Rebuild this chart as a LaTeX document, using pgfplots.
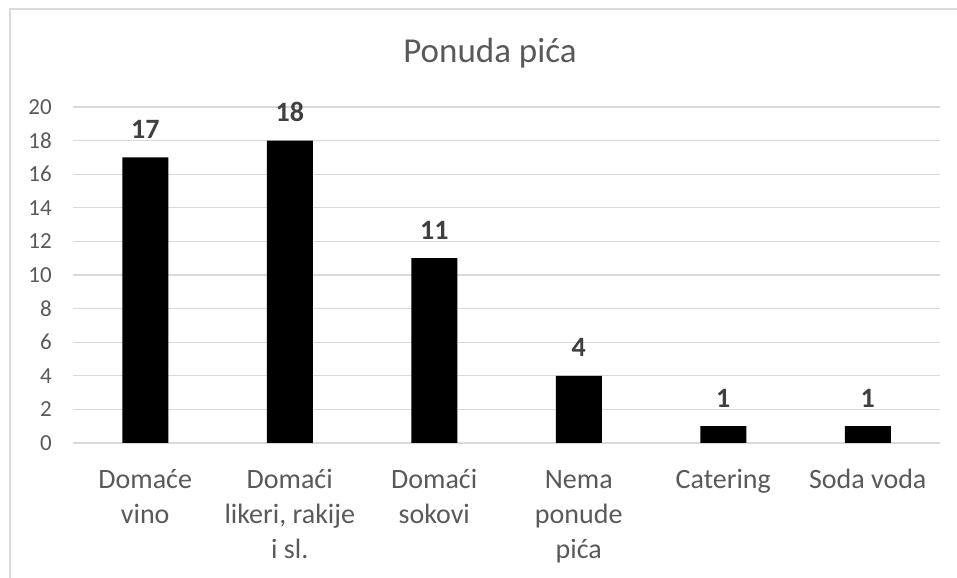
\documentclass[border=0pt]{standalone}
\usepackage{pgfplots}
\pgfplotsset{compat=1.18}
\usepackage{fontspec}
\setmainfont{Carlito}
\definecolor{txt}{HTML}{595959}
\definecolor{lbl}{HTML}{404040}
\definecolor{grd}{HTML}{D9D9D9}
\newcommand\yt[1]{\fontsize{23bp}{26bp}\selectfont #1}
\begin{document}
\begin{tikzpicture}[x=1bp,y=1bp]
\path[use as bounding box] (0,0) rectangle (957,578);
\draw[grd, line width=1.5bp] (10,0) -- (10,569) -- (957,569);
\node[anchor=base, text=txt, font=\fontsize{35bp}{40bp}\selectfont] at (490,515) {Ponuda pića};
\begin{axis}[
  at={(73bp,135bp)}, anchor=south west,
  scale only axis, width=867bp, height=336bp,
  xmin=-0.5, xmax=5.5, ymin=0, ymax=20,
  ytick={0,2,4,6,8,10,12,14,16,18,20},
  yticklabels={\yt{0},\yt{2},\yt{4},\yt{6},\yt{8},\yt{10},\yt{12},\yt{14},\yt{16},\yt{18},\yt{20}},
  xtick={0,...,5},
  xticklabels={{\strut Domaće\\vino},{\strut Domaći\\likeri, rakije\\i sl.},{\strut Domaći\\sokovi},{\strut Nema\\ponude\\pića},{\strut Catering},{\strut Soda voda}},
  axis line style={draw=none},
  major tick length=0pt,
  ymajorgrids, grid style={grd, line width=1.2bp},
  /pgf/number format/assume math mode=true,
  yticklabel style={text=txt, anchor=east, inner sep=0pt, xshift=-21bp},
  xticklabel style={font=\fontsize{28bp}{35bp}\selectfont, text=txt, align=center, anchor=north, inner sep=0pt, yshift=-20.5bp},
  ybar, bar width=46bp,
  nodes near coords,
  nodes near coords style={font=\fontsize{28bp}{34bp}\selectfont\bfseries, text=lbl, anchor=base, yshift=19bp, inner sep=0pt},
]
\addplot[fill=black, draw=none] coordinates {(0,17) (1,18) (2,11) (3,4) (4,1) (5,1)};
\end{axis}
\end{tikzpicture}
\end{document}
